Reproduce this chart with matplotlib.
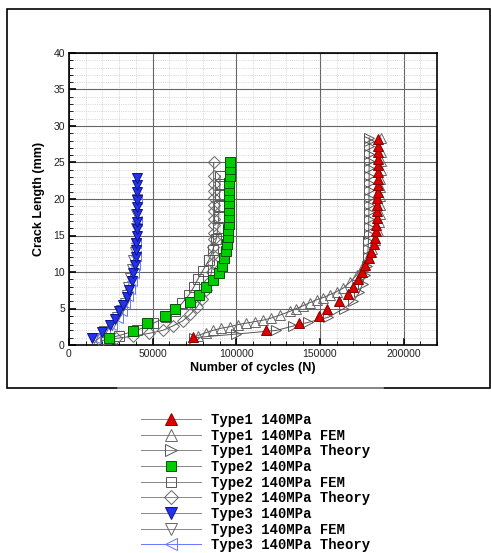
import matplotlib
matplotlib.use("Agg")
import matplotlib.pyplot as plt
from matplotlib.patches import Rectangle
from matplotlib.lines import Line2D
from matplotlib.ticker import MultipleLocator

# Type1 140MPa - experiment
n_t1 = [74000, 117500, 137300, 149300, 154300, 161500, 166500, 170000, 172500, 175000,
        177200, 179200, 180800, 182200, 183000, 183500, 183800, 184000, 184200, 184300,
        184400, 184500, 184500, 184600, 184600, 184700, 184700, 184800, 184800, 184800]
a_t1 = [1.1, 2.1, 3.0, 4.0, 5.0, 6.0, 7.0, 8.0, 9.0, 10.0, 10.9, 11.9, 12.8,
        13.8, 14.7, 15.6, 16.5, 17.4, 18.3, 19.2, 20.1, 21.0, 21.9, 22.8, 23.7,
        24.6, 25.5, 26.4, 27.3, 28.2]
# Type1 FEM
n_t1_fem = [77000, 82000, 86000, 91000, 96000, 101000, 106000, 111000, 116000, 121000,
            126000, 132000, 136000, 140000, 144000, 148000, 152000, 156000, 160000, 164000,
            168000, 172000, 175500, 178500, 181000, 183000, 184500, 185300, 185700, 186000,
            186100, 186200, 186200, 186300, 186300, 186300, 186400]
a_t1_fem = [1.3, 1.7, 2.0, 2.3, 2.5, 2.8, 3.0, 3.2, 3.4, 3.7,
            4.1, 4.6, 5.0, 5.4, 5.8, 6.2, 6.5, 6.9, 7.3, 7.8,
            8.6, 9.6, 10.8, 12.0, 13.2, 14.4, 15.6, 16.8, 18.0, 19.2,
            20.4, 21.6, 22.8, 24.0, 25.2, 26.4, 28.3]
# Type1 Theory
n_t1_th = [75000, 100000, 124000, 134000, 143000, 155000, 164300, 170000, 173500, 175500,
           177000, 178000, 178500, 178800, 179000, 179100, 179200, 179200, 179300, 179300,
           179300, 179400, 179400, 179400, 179400, 179500, 179500, 179500, 179500, 179500]
a_t1_th = [1.0, 1.5, 2.0, 2.6, 3.1, 3.8, 5.0, 6.0, 7.2, 8.4,
           9.6, 10.8, 12.0, 13.2, 14.2, 15.2, 16.2, 17.2, 18.2, 19.2,
           20.2, 21.2, 22.2, 23.2, 24.2, 25.2, 26.2, 27.2, 28.0, 28.4]

# Type2 140MPa - experiment
n_t2 = [24200, 38100, 46500, 57500, 63500, 72500, 78000, 82000, 86000, 89400, 91400, 92400,
        93600, 94400, 95000, 95300, 95500, 95600, 95700, 95800, 95800, 95900, 95900, 96000,
        96000, 96000]
a_t2 = [0.9, 1.9, 3.0, 4.0, 4.9, 5.9, 6.8, 7.9, 8.9, 9.9, 10.8, 11.9,
        12.9, 13.8, 14.8, 15.7, 16.6, 17.6, 18.5, 19.4, 20.4, 21.3, 22.2, 23.2,
        24.1, 25.0]
# Type2 FEM
n_t2_fem = [22000, 30000, 40500, 50500, 58000, 63500, 67500, 71500, 74500, 77000,
            80000, 83500, 86000, 88000, 89000, 89500, 89800, 90000, 90200, 90300]
a_t2_fem = [0.8, 1.3, 2.0, 3.0, 3.8, 4.6, 5.7, 6.8, 7.9, 9.0,
            10.2, 11.6, 13.0, 14.5, 16.0, 17.5, 19.0, 20.5, 22.0, 23.2]
# Type2 Theory
n_t2_th = [19000, 28000, 38000, 48000, 56000, 62000, 68000, 72500, 76500, 79500,
           82000, 84000, 85200, 85800, 86100, 86300, 86400, 86400, 86400, 86500,
           86500, 86500, 86500, 86500, 86500, 86500, 86500]
a_t2_th = [0.6, 0.9, 1.2, 1.6, 2.0, 2.6, 3.3, 4.2, 5.2, 6.3,
           7.5, 8.8, 10.0, 11.2, 12.3, 13.4, 14.5, 15.4, 16.4, 17.3,
           18.3, 19.2, 20.2, 21.1, 22.1, 23.1, 25.0]

# Type3 140MPa - experiment
n_t3 = [13600, 19600, 24500, 27500, 30100, 32100, 34500, 36100, 37500, 38500, 39500, 40000,
        40200, 40300, 40400, 40400, 40500, 40500, 40500, 40500, 40600, 40600, 40600]
a_t3 = [0.9, 1.8, 2.7, 3.6, 4.6, 5.5, 6.6, 7.5, 8.7, 9.8, 11.0, 12.1,
        13.0, 14.0, 15.0, 15.9, 16.9, 17.9, 18.9, 19.9, 20.9, 21.9, 22.9]
# Type3 FEM
n_t3_fem = [15000, 21000, 25500, 28800, 31300, 33300, 34800, 35500, 36500, 37500,
            38500, 39300, 39800, 40100, 40300, 40400]
a_t3_fem = [1.0, 1.9, 2.8, 3.8, 4.8, 5.8, 6.9, 8.0, 9.2, 10.4,
            11.6, 12.8, 14.0, 16.0, 18.0, 20.0]
# Type3 Theory
n_t3_th = [15500, 21500, 26000, 29000, 31500, 33500, 35300, 36700, 37900, 38900,
           39600, 40000, 40300, 40400, 40500]
a_t3_th = [1.0, 1.9, 2.8, 3.7, 4.7, 5.7, 6.7, 7.7, 8.8, 9.9,
           11.0, 12.2, 14.0, 17.0, 20.0]

series = [
    ("Type1 140MPa", n_t1, a_t1, "^", "#dd0000", "#880000", 7.5),
    ("Type1 140MPa FEM", n_t1_fem, a_t1_fem, "^", "none", "#666666", 7.5),
    ("Type1 140MPa Theory", n_t1_th, a_t1_th, ">", "none", "#555555", 7.5),
    ("Type2 140MPa", n_t2, a_t2, "s", "#00cc00", "#005500", 6.5),
    ("Type2 140MPa FEM", n_t2_fem, a_t2_fem, "s", "none", "#555555", 6.5),
    ("Type2 140MPa Theory", n_t2_th, a_t2_th, "D", "none", "#666666", 6.5),
    ("Type3 140MPa", n_t3, a_t3, "v", "#2233ee", "#111188", 7.5),
    ("Type3 140MPa FEM", n_t3_fem, a_t3_fem, "v", "none", "#666666", 7.5),
    ("Type3 140MPa Theory", n_t3_th, a_t3_th, "<", "none", "#6677ff", 7.5),
]

fig = plt.figure(figsize=(4.91, 5.53), dpi=100)
ax = fig.add_axes([69 / 491, 1 - 345 / 553, 368 / 491, 292 / 553])

# draw experiments last so they sit on top
order = [1, 2, 4, 5, 7, 8, 0, 3, 6]
for i in order:
    label, n, a, mk, fc, ec, ms = series[i]
    lc = "#6677ff" if "Type3" in label and "Theory" in label else "#555555"
    lw = 0 if fc != "none" else 0.7
    ax.plot(n, a, color=lc, lw=lw, marker=mk, markersize=ms,
            markerfacecolor=fc, markeredgecolor=ec, markeredgewidth=0.7,
            zorder=3 if fc == "none" else 4)

ax.set_xlim(0, 220000)
ax.set_ylim(0, 40)
ax.xaxis.set_major_locator(MultipleLocator(50000))
ax.xaxis.set_minor_locator(MultipleLocator(10000))
ax.yaxis.set_major_locator(MultipleLocator(5))
ax.yaxis.set_minor_locator(MultipleLocator(1))
ax.grid(which="major", color="#666666", lw=0.8)
ax.grid(which="minor", color="#bbbbbb", lw=0.5, ls=":")
ax.set_axisbelow(True)
ax.tick_params(which="both", direction="in", top=False, right=False)
ax.tick_params(which="major", length=5, width=1.2, labelsize=7.5, labelcolor="#222222", pad=3)
ax.tick_params(which="minor", length=3, width=0.6)
for lab in ax.get_xticklabels() + ax.get_yticklabels():
    lab.set_family("Liberation Sans")
for s in ax.spines.values():
    s.set_linewidth(1.2)

ax.set_xlabel("Number of cycles (N)", fontsize=9, fontweight="bold", family="Liberation Sans", labelpad=2)
ax.set_ylabel("Crack Length (mm)", fontsize=9, fontweight="bold", family="Liberation Sans", labelpad=6)

# outer frame around the plot region
fig.patches.append(Rectangle((7 / 491, 1 - 388 / 553), 483 / 491, 379 / 553, transform=fig.transFigure,
                             fill=False, edgecolor="black", lw=1.2))
fig.lines.append(Line2D([118 / 491, 383 / 491], [1 - 388 / 553, 1 - 388 / 553],
                        transform=fig.transFigure, color="#999999", lw=1.2))

# legend
leg_handles = []
leg_labels = []
for i in range(9):
    label, n, a, mk, fc, ec, ms = series[i]
    lc = "#6677ff" if "Type3" in label and "Theory" in label else "#888888"
    leg_handles.append(Line2D([], [], color=lc, lw=0.7, marker=mk, markersize=ms * 1.15,
                              markerfacecolor=fc, markeredgecolor=ec, markeredgewidth=0.7))
    leg_labels.append(label)
fig.legend(leg_handles, leg_labels, loc="upper left", bbox_to_anchor=(134 / 491, 1 - 406 / 553),
           frameon=False, borderpad=0, handlelength=4.3, handletextpad=0.75, labelspacing=0.12,
           prop={"family": "Liberation Mono", "weight": "bold", "size": 10})

fig.savefig("out.png", dpi=100)
